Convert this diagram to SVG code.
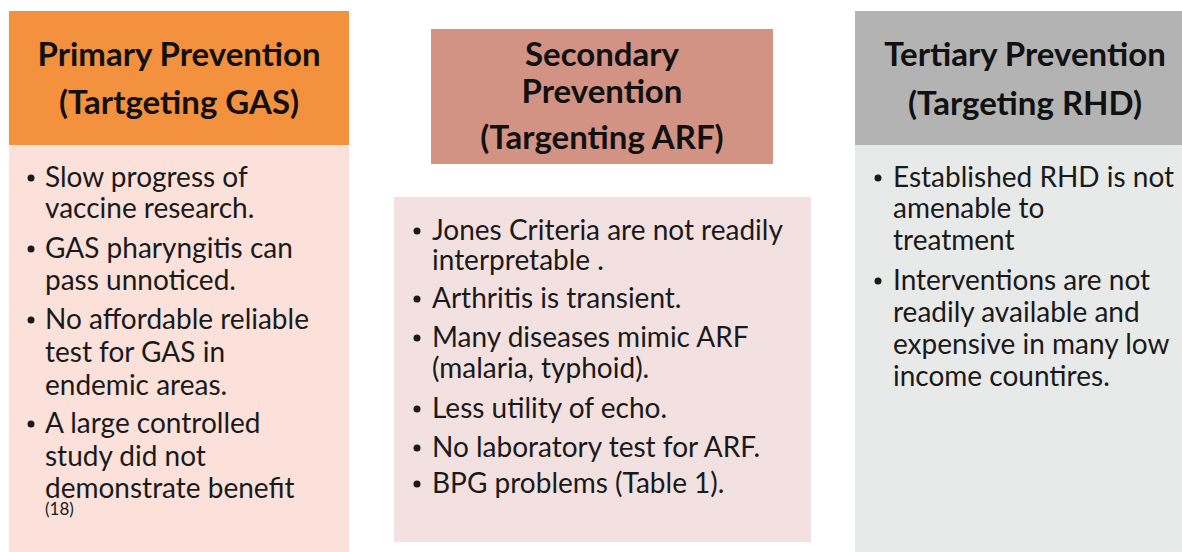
<svg xmlns="http://www.w3.org/2000/svg" width="1182" height="552" viewBox="0 0 1182 552">
  <style>
    .head { font-family: Lato, "Open Sans", sans-serif; font-weight: 700; font-size: 33px; fill: #111; text-anchor: middle; }
    .body { font-family: Lato, "Open Sans", sans-serif; font-size: 28px; fill: #1a1a1a; }
    .ref { font-family: Lato, "Open Sans", sans-serif; font-size: 17px; fill: #1a1a1a; }
    .dot { fill: #1a1a1a; }
  </style>
  <rect width="1182" height="552" fill="#ffffff"/>

  <!-- Primary prevention column -->
  <g id="primary">
    <rect x="9" y="11" width="340" height="134" fill="#F4913F"/>
    <rect x="9" y="145" width="340" height="407" fill="#FBE1DA"/>
    <text class="head" x="179" y="66">Primary Prevention</text>
    <text class="head" x="179" y="114">(Tartgeting GAS)</text>
    <circle class="dot" cx="31" cy="178" r="3.5"/>
    <text class="body" x="45" y="187">Slow progress of</text>
    <text class="body" x="45" y="218">vaccine research.</text>
    <circle class="dot" cx="31" cy="249" r="3.5"/>
    <text class="body" x="45" y="258">GAS pharyngitis can</text>
    <text class="body" x="45" y="290">pass unnoticed.</text>
    <circle class="dot" cx="31" cy="320" r="3.5"/>
    <text class="body" x="45" y="329">No affordable reliable</text>
    <text class="body" x="45" y="362">test for GAS in</text>
    <text class="body" x="45" y="395">endemic areas.</text>
    <circle class="dot" cx="31" cy="424" r="3.5"/>
    <text class="body" x="45" y="433">A large controlled</text>
    <text class="body" x="45" y="466">study did not</text>
    <text class="body" x="45" y="498">demonstrate benefit</text>
    <text class="ref" x="45" y="515">(18)</text>
  </g>

  <!-- Secondary prevention column -->
  <g id="secondary">
    <rect x="431" y="29" width="342" height="135" fill="#D29384"/>
    <rect x="394" y="197" width="417" height="345" fill="#F3E0E0"/>
    <text class="head" x="602" y="66">Secondary</text>
    <text class="head" x="602" y="103">Prevention</text>
    <text class="head" x="602" y="149">(Targenting ARF)</text>
    <circle class="dot" cx="417" cy="231" r="3.5"/>
    <text class="body" x="432" y="240">Jones Criteria are not readily</text>
    <text class="body" x="432" y="270">interpretable .</text>
    <circle class="dot" cx="417" cy="299" r="3.5"/>
    <text class="body" x="432" y="308">Arthritis is transient.</text>
    <circle class="dot" cx="417" cy="338" r="3.5"/>
    <text class="body" x="432" y="347">Many diseases mimic ARF</text>
    <text class="body" x="432" y="378">(malaria, typhoid).</text>
    <circle class="dot" cx="417" cy="409" r="3.5"/>
    <text class="body" x="432" y="418">Less utility of echo.</text>
    <circle class="dot" cx="417" cy="448" r="3.5"/>
    <text class="body" x="432" y="457">No laboratory test for ARF.</text>
    <circle class="dot" cx="417" cy="484" r="3.5"/>
    <text class="body" x="432" y="493">BPG problems (Table 1).</text>
  </g>

  <!-- Tertiary prevention column -->
  <g id="tertiary">
    <rect x="855" y="11" width="327" height="134" fill="#B3B3B3"/>
    <rect x="855" y="145" width="327" height="407" fill="#E8E9E9"/>
    <text class="head" x="1025" y="66">Tertiary Prevention</text>
    <text class="head" x="1025" y="115">(Targeting RHD)</text>
    <circle class="dot" cx="878" cy="178" r="3.5"/>
    <text class="body" x="893" y="187">Established RHD is not</text>
    <text class="body" x="893" y="218">amenable to</text>
    <text class="body" x="893" y="250">treatment</text>
    <circle class="dot" cx="878" cy="281" r="3.5"/>
    <text class="body" x="893" y="290">Interventions are not</text>
    <text class="body" x="893" y="322">readily available and</text>
    <text class="body" x="893" y="354">expensive in many low</text>
    <text class="body" x="893" y="386">income countires.</text>
  </g>

  <g id="connectors"/>
</svg>
